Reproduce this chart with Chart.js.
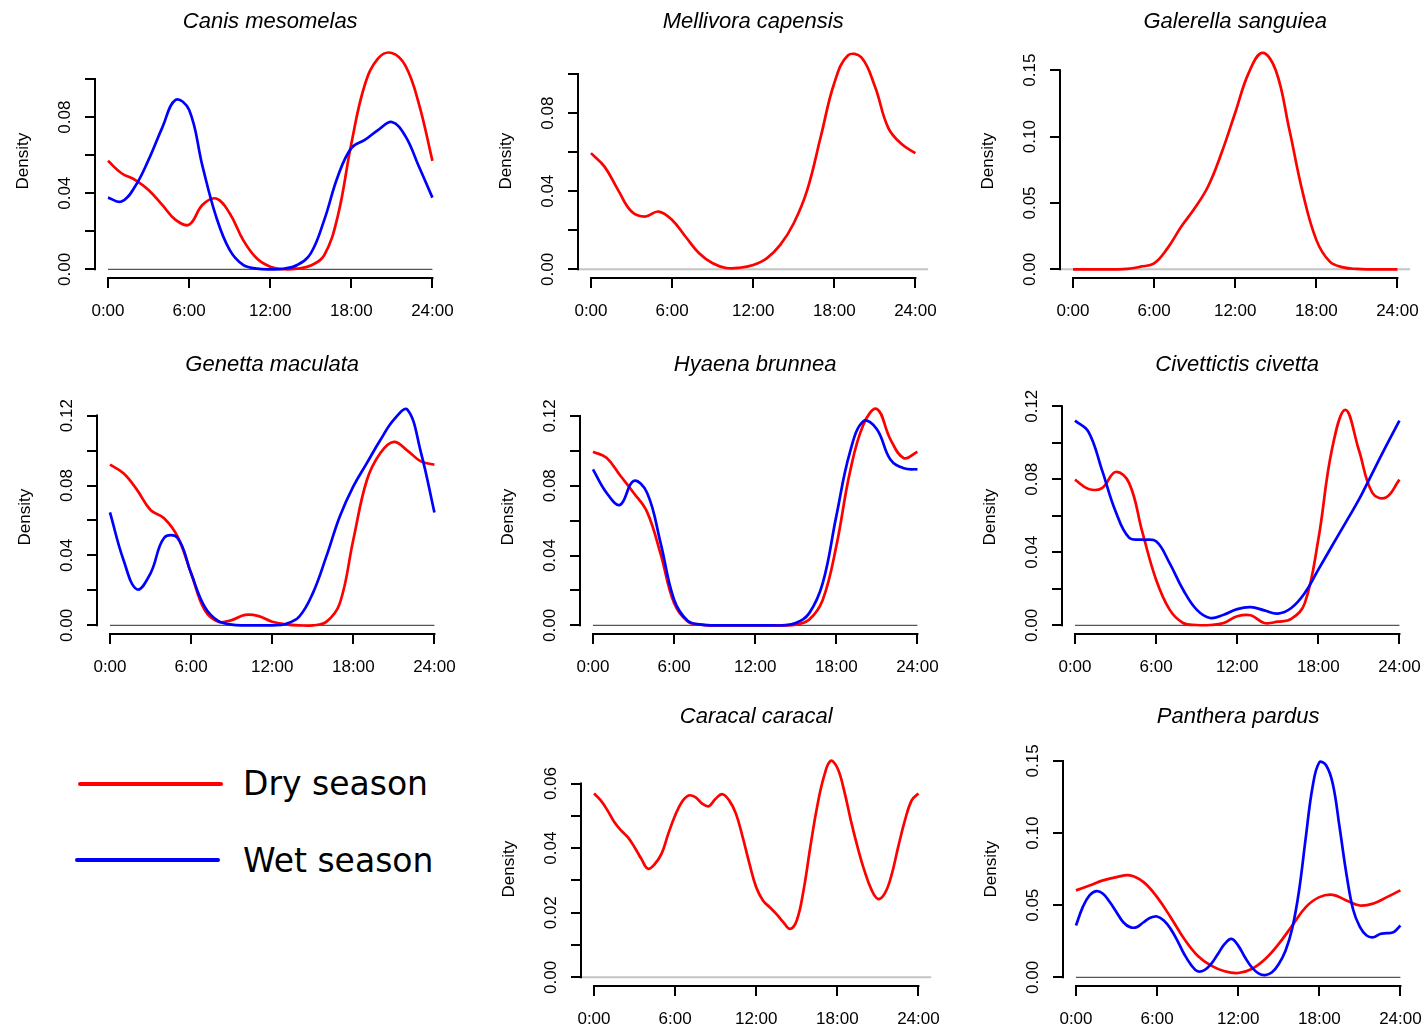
<!DOCTYPE html>
<html>
<head>
<meta charset="utf-8">
<title>Activity density, dry and wet season</title>
<script src="https://cdn.jsdelivr.net/npm/chart.js@4.4.1/dist/chart.umd.min.js"></script>
<style>
  body { margin: 0; background: #fff; }
  #page { position: relative; width: 1424px; height: 1029px; overflow: hidden; background: #fff; }
  #page canvas { position: absolute; }
  .key-line { position: absolute; height: 4px; border-radius: 2px; }
  .key-text { position: absolute; font-family: "DejaVu Sans", sans-serif; font-size: 33px; line-height: 33px; color: #000; white-space: nowrap; }
</style>
</head>
<body>
<div id="page">
  <div class="key-line" style="left:78px;top:782px;width:145px;background:#ff0000"></div>
  <div class="key-text" style="left:243px;top:767px">Dry season</div>
  <div class="key-line" style="left:75px;top:858px;width:145px;background:#0000ff"></div>
  <div class="key-text" style="left:243px;top:844px">Wet season</div>
</div>
<script>
// x grids (hour of day)
const hours = [0, 1, 2, 3, 4, 5, 6, 7, 8, 9, 10, 11, 12, 13, 14, 15, 16, 17, 18, 19, 20, 21, 22, 23, 24];
const halfHours = [0, 0.5, 1, 1.5, 2, 2.5, 3, 3.5, 4, 4.5, 5, 5.5, 6, 6.5, 7, 7.5, 8, 8.5, 9, 9.5, 10, 10.5, 11, 11.5,
  12, 12.5, 13, 13.5, 14, 14.5, 15, 15.5, 16, 16.5, 17, 17.5, 18, 18.5, 19, 19.5, 20, 20.5, 21, 21.5, 22, 22.5, 23, 23.5, 24];
const hourTicks = [0, 6, 12, 18, 24];
const hourLabels = ["0:00", "6:00", "12:00", "18:00", "24:00"];

// y ticks (R style: every tick drawn, some labels dropped)
const ticks010 = [0, 0.02, 0.04, 0.06, 0.08, 0.10];
const labels010 = ["0.00", "", "0.04", "", "0.08", ""];
const ticks012 = [0, 0.02, 0.04, 0.06, 0.08, 0.10, 0.12];
const labels012 = ["0.00", "", "0.04", "", "0.08", "", "0.12"];
const ticks015 = [0, 0.05, 0.10, 0.15];
const labels015 = ["0.00", "0.05", "0.10", "0.15"];
const ticks006 = [0, 0.01, 0.02, 0.03, 0.04, 0.05, 0.06];
const labels006 = ["0.00", "", "0.02", "", "0.04", "", "0.06"];

// density curves
const canisDry = [0.057, 0.0505, 0.047, 0.0417, 0.034, 0.026, 0.0235, 0.0339, 0.0372, 0.0295, 0.0154, 0.0058, 0.0014,
  0.0001, 0.0004, 0.002, 0.0075, 0.028, 0.066, 0.097, 0.111, 0.1137, 0.107, 0.087, 0.057];
const canisWet = [0.0377, 0.0356, 0.0435, 0.0575, 0.0742, 0.089, 0.0838, 0.054, 0.0277, 0.0102, 0.0023, 0.0004, 0,
  0.0003, 0.0023, 0.0084, 0.026, 0.0488, 0.0637, 0.068, 0.0733, 0.0774, 0.07, 0.054, 0.0377];
const mellivoraDry = [0.0595, 0.0526, 0.0407, 0.0296, 0.027, 0.0296, 0.0253, 0.0167, 0.0082, 0.0031, 0.0007, 0.0008, 0.0022,
  0.0056, 0.0125, 0.0236, 0.0407, 0.068, 0.0954, 0.1095, 0.1085, 0.0937, 0.0723, 0.064, 0.0595];
const galerellaDry = [0, 0, 0, 0, 0.0003, 0.002, 0.0045, 0.016, 0.032, 0.046, 0.0626, 0.088, 0.118,
  0.148, 0.163, 0.15, 0.1055, 0.0576, 0.0222, 0.0058, 0.0015, 0.0003, 0, 0, 0];
const genettaDry = [0.0919, 0.087, 0.0775, 0.066, 0.0613, 0.0508, 0.0298, 0.0088, 0.0021, 0.003, 0.006, 0.0053, 0.0021,
  0.0006, 0, 0, 0.002, 0.0126, 0.049, 0.083, 0.0986, 0.105, 0.1, 0.0938, 0.0919];
const genettaWet = [0.0646, 0.0374, 0.0206, 0.0298, 0.05, 0.05, 0.0298, 0.0107, 0.0025, 0.0004, 0, 0, 0,
  0.0008, 0.005, 0.0183, 0.0393, 0.0623, 0.0795, 0.0928, 0.106, 0.1177, 0.1234, 0.099, 0.0646];
const hyaenaDry = [0.0995, 0.096, 0.086, 0.076, 0.065, 0.041, 0.0128, 0.0023, 0.0004, 0, 0, 0, 0,
  0, 0, 0.0004, 0.0033, 0.0147, 0.0454, 0.0875, 0.115, 0.124, 0.1066, 0.0958, 0.0995];
const hyaenaWet = [0.0894, 0.076, 0.069, 0.0827, 0.076, 0.0473, 0.0147, 0.0027, 0.0004, 0, 0, 0, 0,
  0, 0, 0.0013, 0.007, 0.0243, 0.0626, 0.099, 0.117, 0.1124, 0.095, 0.09, 0.0894];
const civettictisDry = [0.0798, 0.0747, 0.0752, 0.084, 0.078, 0.0506, 0.025, 0.0086, 0.0013, 0.0002, 0.0002, 0.0013, 0.005,
  0.0055, 0.0013, 0.002, 0.0035, 0.0122, 0.047, 0.096, 0.118, 0.096, 0.0725, 0.07, 0.0798];
const civettictisWet = [0.1121, 0.106, 0.085, 0.0625, 0.048, 0.0469, 0.046, 0.0341, 0.0195, 0.0086, 0.004, 0.0058, 0.0089,
  0.01, 0.0082, 0.0064, 0.0095, 0.0177, 0.0305, 0.0433, 0.056, 0.0688, 0.0834, 0.098, 0.1121];
const caracalDry = [0.0569, 0.0548, 0.0517, 0.0481, 0.0455, 0.0434, 0.0403, 0.0367, 0.0336, 0.0351, 0.0383, 0.0445,
  0.0501, 0.0543, 0.0563, 0.0558, 0.0538, 0.053, 0.0553, 0.0567, 0.0548, 0.0507, 0.0434, 0.0352,
  0.0279, 0.0238, 0.0217, 0.0196, 0.0171, 0.015, 0.0176, 0.0269, 0.0403, 0.0527, 0.062, 0.067,
  0.0649, 0.0579, 0.0486, 0.0403, 0.0331, 0.0274, 0.0243, 0.0259, 0.0315, 0.0403, 0.0486, 0.0548, 0.0569];
const pantheraDry = [0.0603, 0.0637, 0.0672, 0.0695, 0.0707, 0.066, 0.0556, 0.0417, 0.0267, 0.015, 0.0081, 0.0042, 0.003,
  0.0058, 0.0127, 0.0232, 0.0359, 0.0487, 0.0556, 0.0572, 0.0533, 0.0498, 0.0512, 0.0556, 0.0603];
const pantheraWet = [0.0359, 0.0487, 0.0568, 0.0598, 0.058, 0.0522, 0.0452, 0.0382, 0.0348, 0.0348, 0.0382, 0.0413,
  0.0422, 0.0394, 0.0336, 0.0255, 0.0162, 0.0088, 0.0042, 0.005, 0.0093, 0.0162, 0.0232, 0.0267,
  0.022, 0.0139, 0.007, 0.0028, 0.0016, 0.0035, 0.0093, 0.0185, 0.034, 0.06, 0.097, 0.132,
  0.149, 0.147, 0.134, 0.104, 0.072, 0.047, 0.035, 0.029, 0.0278, 0.0301, 0.0306, 0.0313, 0.0359];

const DRY = "#ff0000";
const WET = "#0000ff";
const X_MIN = -0.96, X_MAX = 24.96;   // R's 4% axis extension

// where each plot region sits on the page: y-axis x and x-axis y
const panels = [
  { name: "Canis mesomelas", left: 95.3, bottom: 277.7, yTop: 0.1137, ticks: ticks010, labels: labels010,
    series: [[hours, canisWet, WET], [hours, canisDry, DRY]] },
  { name: "Mellivora capensis", left: 577.7, bottom: 277.7, yTop: 0.1108, ticks: ticks010, labels: labels010,
    series: [[hours, mellivoraDry, DRY]] },
  { name: "Galerella sanguiea", left: 1060.3, bottom: 277.7, yTop: 0.163, ticks: ticks015, labels: labels015,
    series: [[hours, galerellaDry, DRY]] },
  { name: "Genetta maculata", left: 97.3, bottom: 634.3, yTop: 0.1238, ticks: ticks012, labels: labels012,
    series: [[hours, genettaWet, WET], [hours, genettaDry, DRY]] },
  { name: "Hyaena brunnea", left: 579.7, bottom: 634.3, yTop: 0.124, ticks: ticks012, labels: labels012,
    series: [[hours, hyaenaWet, WET], [hours, hyaenaDry, DRY]] },
  { name: "Civettictis civetta", left: 1061.7, bottom: 634.3, yTop: 0.1185, ticks: ticks012, labels: labels012,
    series: [[hours, civettictisWet, WET], [hours, civettictisDry, DRY]] },
  { name: "Caracal caracal", left: 581, bottom: 985.7, yTop: 0.067, ticks: ticks006, labels: labels006,
    series: [[halfHours, caracalDry, DRY]] },
  { name: "Panthera pardus", left: 1062.7, bottom: 985.7, yTop: 0.150, ticks: ticks015, labels: labels015,
    series: [[halfHours, pantheraWet, WET], [hours, pantheraDry, DRY]] }
];

Chart.defaults.font.family = '"Liberation Sans", Arial, Helvetica, sans-serif';
Chart.defaults.color = "#000";

const CW = 480, CH = 360;
const AREA = { left: 95, right: 95 + 350.4, top: 290 - 233.7, bottom: 290 };

// R draws the axis lines only between the first and last tick
const axisLines = {
  id: "axisLines",
  afterDraw(chart) {
    const { ctx, chartArea, scales } = chart;
    const yt = scales.y.ticks;
    ctx.save();
    ctx.strokeStyle = "#000";
    ctx.lineWidth = 2;
    ctx.lineCap = "square";
    ctx.beginPath();
    ctx.moveTo(scales.x.getPixelForValue(hourTicks[0]), chartArea.bottom);
    ctx.lineTo(scales.x.getPixelForValue(hourTicks[hourTicks.length - 1]), chartArea.bottom);
    ctx.moveTo(chartArea.left, scales.y.getPixelForValue(yt[0].value));
    ctx.lineTo(chartArea.left, scales.y.getPixelForValue(yt[yt.length - 1].value));
    ctx.stroke();
    ctx.restore();
  }
};

const page = document.getElementById("page");

panels.forEach((p, i) => {
  const canvas = document.createElement("canvas");
  canvas.width = CW;
  canvas.height = CH;
  canvas.style.left = (p.left - AREA.left) + "px";
  canvas.style.top = (p.bottom - AREA.bottom) + "px";
  page.appendChild(canvas);

  const datasets = p.series.map(([xs, ys, color]) => ({
    data: xs.map((h, k) => ({ x: h, y: ys[k] })),
    borderColor: color,
    borderWidth: 2.7,
    pointRadius: 0,
    tension: 0.4,
    fill: false
  }));
  // zero line: dark over the day range when two seasons, light grey full width otherwise
  if (p.series.length > 1) {
    datasets.push({ data: [{ x: hours[0], y: 0 }, { x: hours[hours.length - 1], y: 0 }],
      borderColor: "#555555", borderWidth: 1.2, pointRadius: 0 });
  } else {
    datasets.push({ data: [{ x: X_MIN, y: 0 }, { x: X_MAX, y: 0 }],
      borderColor: "#c4c4c4", borderWidth: 2, pointRadius: 0 });
  }

  const pad = { left: 0, right: 34.6, top: i < 3 ? 19 : 7, bottom: 8 };
  const options = {
    responsive: false,
    animation: false,
    devicePixelRatio: 1,
    events: [],
    layout: { padding: pad },
    plugins: {
      legend: { display: false },
      tooltip: { enabled: false },
      title: {
        display: true,
        text: p.name,
        fullSize: false,
        color: "#000",
        font: { size: 22, style: "italic", weight: "normal" },
        padding: { top: 0, bottom: i < 3 ? 9.6 : 22.2 }
      }
    },
    scales: {
      x: {
        type: "linear",
        min: X_MIN,
        max: X_MAX,
        afterBuildTicks: s => { s.ticks = hourTicks.map(v => ({ value: v })); },
        afterFit: s => { s.height = 62; },
        border: { display: false },
        grid: { drawOnChartArea: false, drawTicks: true, tickLength: 10, color: "#000", lineWidth: 2 },
        ticks: { autoSkip: false, maxRotation: 0, padding: 13, color: "#000", font: { size: 17 },
          callback: (v, k) => hourLabels[k] }
      },
      y: {
        type: "linear",
        min: -0.04 * p.yTop,
        max: 1.04 * p.yTop,
        afterBuildTicks: s => { s.ticks = p.ticks.map(v => ({ value: v })); },
        afterFit: s => { s.width = 95; },
        border: { display: false },
        grid: { drawOnChartArea: false, drawTicks: true, tickLength: 10, color: "#000", lineWidth: 2 },
        ticks: { autoSkip: false, minRotation: 90, maxRotation: 90, crossAlign: "center", padding: 3.5,
          color: "#000", font: { size: 17 }, callback: (v, k) => p.labels[k] },
        title: { display: true, text: "Density", color: "#000", font: { size: 17 }, padding: { top: 13, bottom: 0 } }
      }
    }
  };

  const chart = new Chart(canvas, { type: "line", data: { datasets }, options, plugins: [axisLines] });

  // nudge the padding until the plot region lands where R put it
  for (let k = 0; k < 3; k++) {
    const a = chart.chartArea;
    pad.left += AREA.left - a.left;
    pad.top += AREA.top - a.top;
    pad.right += a.right - AREA.right;
    pad.bottom += a.bottom - AREA.bottom;
    chart.update("none");
  }
});
</script>
</body>
</html>
